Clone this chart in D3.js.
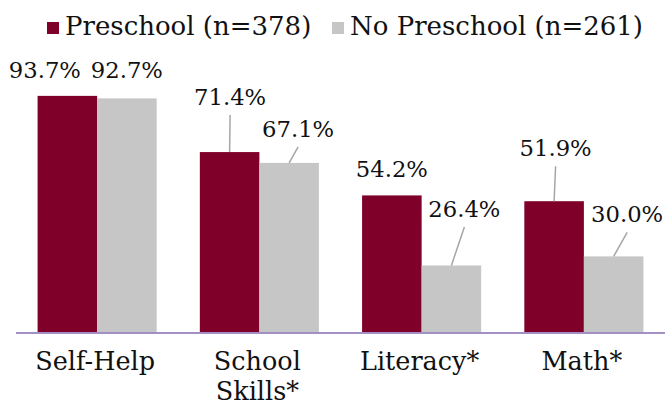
<!DOCTYPE html>
<html>
<head>
<meta charset="utf-8">
<script src="https://cdn.jsdelivr.net/npm/d3@7"></script>
<style>
  html, body { margin: 0; padding: 0; background: #fff; }
  svg { display: block; }
  text { font-family: "DejaVu Serif", serif; fill: #111; }
</style>
</head>
<body>
<svg id="chart" width="665" height="405"></svg>
<script>
// ---- data ----
const categories = ["Self-Help", "School Skills*", "Literacy*", "Math*"];
const categoryLines = [["Self-Help"], ["School", "Skills*"], ["Literacy*"], ["Math*"]];
const seriesNames = ["Preschool (n=378)", "No Preschool (n=261)"];
const preschool = [93.7, 71.4, 54.2, 51.9];
const noPreschool = [92.7, 67.1, 26.4, 30.0];
const seriesColors = ["#7f0028", "#c6c6c6"];

// ---- label layout (manual placements as in the original) ----
const preschoolLabelDx = [-22.5, 0.5, 0, 1.5];
const preschoolLabelRise = [18, 47, 18, 45];
const preschoolLeader = [false, true, false, true];
const noPreschoolLabelDx = [0, 9, 13, 13.5];
const noPreschoolLabelRise = [20, 26, 48.5, 34];
const noPreschoolLeader = [false, true, true, true];

const svg = d3.select("#chart");
const baseY = 332;

const x = d3.scaleBand().domain(categories).range([16, 665]).paddingInner(0.266).paddingOuter(0.133);
const xs = d3.scaleBand().domain([0, 1]).range([0, x.bandwidth()]);
const y = d3.scaleLinear().domain([0, 100]).range([baseY, 80]);

const series = [
  { name: seriesNames[0], values: preschool, color: seriesColors[0], dx: preschoolLabelDx, rise: preschoolLabelRise, leader: preschoolLeader },
  { name: seriesNames[1], values: noPreschool, color: seriesColors[1], dx: noPreschoolLabelDx, rise: noPreschoolLabelRise, leader: noPreschoolLeader }
];

// bars
series.forEach((s, si) => {
  svg.append("g").selectAll("rect")
    .data(s.values)
    .join("rect")
    .attr("x", (d, i) => x(categories[i]) + xs(si))
    .attr("y", d => y(d))
    .attr("width", xs.bandwidth())
    .attr("height", d => baseY - y(d))
    .attr("fill", s.color);
});

// axis baseline
svg.append("line")
  .attr("x1", x.range()[0]).attr("x2", x.range()[1])
  .attr("y1", baseY + 1).attr("y2", baseY + 1)
  .attr("stroke", "#a290c4").attr("stroke-width", 2);

// data labels + leader lines
series.forEach((s, si) => {
  s.values.forEach((v, i) => {
    const cx = x(categories[i]) + xs(si) + xs.bandwidth() / 2;
    const top = y(v);
    const lx = cx + s.dx[i];
    const ly = top - s.rise[i];
    if (s.leader[i]) {
      svg.append("line")
        .attr("x1", lx).attr("y1", ly + 10)
        .attr("x2", cx).attr("y2", top)
        .attr("stroke", "#a6a6a6").attr("stroke-width", 1.5);
    }
    svg.append("text")
      .attr("x", lx).attr("y", ly)
      .attr("text-anchor", "middle")
      .attr("font-size", 22.7)
      .text(d3.format(".1f")(v) + "%");
  });
});

// category labels
categories.forEach((c, i) => {
  const cx = x(c) + x.bandwidth() / 2 - 2;
  const t = svg.append("text")
    .attr("x", cx)
    .attr("y", 370)
    .attr("text-anchor", "middle")
    .attr("font-size", 25.5);
  categoryLines[i].forEach((line, li) => {
    t.append("tspan")
      .attr("x", cx)
      .attr("dy", li === 0 ? 0 : 30)
      .text(line);
  });
});

// legend
const legendX = [47, 332];
series.forEach((s, si) => {
  const g = svg.append("g").attr("transform", `translate(${legendX[si]},0)`);
  g.append("rect").attr("x", 0).attr("y", 22).attr("width", 12).attr("height", 12).attr("fill", s.color);
  g.append("text").attr("x", 18).attr("y", 35).attr("font-size", 26).text(s.name);
});
</script>
</body>
</html>
